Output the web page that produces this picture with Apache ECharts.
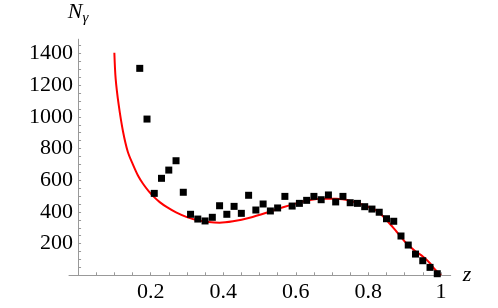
<!DOCTYPE html>
<html><head><meta charset="utf-8">
<script src="https://cdn.jsdelivr.net/npm/echarts@6/dist/echarts.min.js"></script>
<style>html,body{margin:0;padding:0;background:#fff}#c{width:498px;height:308px}</style>
</head><body><div id="c"></div>
<script>
// Data points (z, N_gamma)
var pointZ = [0.17,0.19,0.21,0.23,0.25,0.27,0.29,0.31,0.33,0.35,0.37,0.39,0.41,0.43,0.45,0.47,0.49,0.51,0.53,0.55,0.57,0.59,0.61,0.63,0.65,0.67,0.69,0.71,0.73,0.75,0.77,0.79,0.81,0.83,0.85,0.87,0.89,0.91,0.93,0.95,0.97,0.99];
var pointN = [1306,986,517,612,664,723,524,385,355,343,366,439,385,435,391,505,412,450,406,425,498,437,454,473,498,477,507,463,498,458,454,433,418,398,357,341,248,191,134,92,50,10];
// Theory curve
var curveZ = [0.1,0.1035,0.112,0.124,0.137,0.151,0.165,0.179,0.195,0.209,0.225,0.245,0.27,0.3,0.33,0.36,0.39,0.427,0.473,0.528,0.565,0.602,0.639,0.675,0.712,0.749,0.786,0.823,0.85,0.878,0.905,0.928,0.951,0.97,0.983,1.0];
var curveN = [1405,1243,1075,906,780,700,630,578,530,495,462,430,397,367,347,336,332,341,363,401,429,454,475,483,483,471,444,408,349,275,202,155,117,76,38,0];
// Tick labels
var xLabels = [0.2,0.4,0.6,0.8,1];
var xTicks = [0.05,0.1,0.15,0.2,0.25,0.3,0.35,0.4,0.45,0.5,0.55,0.6,0.65,0.7,0.75,0.8,0.85,0.9,0.95,1];
var yLabels = [200,400,600,800,1000,1200,1400];
var yTicks = [50,100,150,200,250,300,350,400,450,500,550,600,650,700,750,800,850,900,950,1000,1050,1100,1150,1200,1250,1300,1350,1400,1450];

var font = "'Liberation Serif', 'Times New Roman', serif";
var xMin = -0.025, xMax = 1.027;
var gridLeft = 69, gridRight = 47.3;
var plotW = 498 - gridLeft - gridRight;
var chart = echarts.init(document.getElementById('c'), null, {renderer:'canvas'});
chart.setOption({
  animation:false,
  grid:{left:gridLeft, right:gridRight, top:39.2, bottom:32.7, containLabel:false},
  xAxis:{
    type:'value', min:xMin, max:xMax,
    name:'z', nameLocation:'end', nameGap:12,
    nameTextStyle:{fontFamily:font, fontStyle:'italic', fontSize:22, color:'#000'},
    axisLine:{onZero:true, lineStyle:{color:'#999', width:1}},
    axisTick:{show:true, inside:true, length:3, customValues:xTicks, lineStyle:{color:'#999'}},
    axisLabel:{customValues:xLabels, fontFamily:font, fontSize:22, color:'#000', margin:6,
      formatter:function(v){return String(v);}},
    splitLine:{show:false}
  },
  yAxis:{
    type:'value', min:0, max:1490,
    offset: -(0 - xMin) / (xMax - xMin) * plotW,
    name:'{n|N}{g|γ}', nameLocation:'end', nameGap:14,
    nameTextStyle:{rich:{
      n:{fontFamily:font, fontStyle:'italic', fontSize:22, color:'#000'},
      g:{fontFamily:font, fontStyle:'italic', fontSize:15, color:'#000', padding:[10,0,0,0]}
    }},
    axisLine:{show:true, onZero:false, lineStyle:{color:'#999', width:1}},
    axisTick:{show:true, inside:true, length:3, customValues:yTicks, lineStyle:{color:'#999'}},
    axisLabel:{customValues:yLabels, fontFamily:font, fontSize:22, color:'#000', margin:5,
      formatter:function(v){return String(v);}},
    splitLine:{show:false}
  },
  series:[
    {type:'line', data:curveZ.map(function(z,i){return [z,curveN[i]];}), smooth:0.3,
     showSymbol:false, symbol:'none', lineStyle:{color:'#ff0000', width:2}, z:2},
    {type:'scatter', data:pointZ.map(function(z,i){return [z,pointN[i]];}),
     symbol:'rect', symbolSize:7, itemStyle:{color:'#000', opacity:1}, z:3}
  ]
});
</script></body></html>
